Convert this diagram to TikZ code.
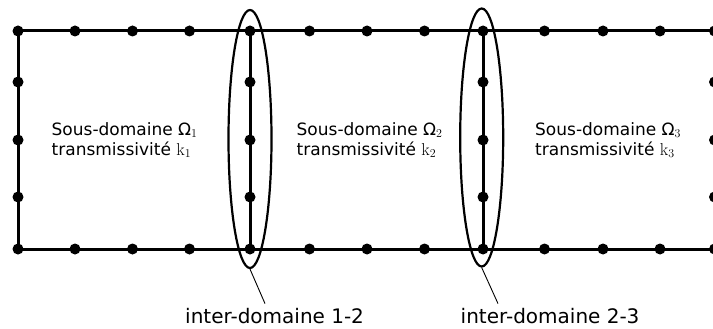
\documentclass[tikz,border=0pt]{standalone}
\usepackage[no-math]{fontspec}
\setmainfont{DejaVu Sans}
\usetikzlibrary{shapes.geometric, positioning, calc}
\tikzset{
  pt/.style={circle, fill, inner sep=0pt, minimum size=11pt},
  bord/.style={line width=3pt},
  zone/.style={ellipse, draw, line width=2.2pt, minimum width=43pt, minimum height=258pt, inner sep=0pt},
  lead/.style={line width=0.9pt},
  dlab/.style={font=\fontsize{17}{20}\selectfont, align=left, anchor=west, inner sep=0pt},
  ilab/.style={font=\fontsize{20}{24}\selectfont, anchor=base west, inner sep=0pt}
}

\begin{document}
\begin{tikzpicture}[x=1pt, y=-1pt]
	\useasboundingbox (0,0) rectangle (713,329);
	\clip (0,0) rectangle (713,329);
	% nodes of the top and bottom edges
	\foreach \i/\x in {0/18, 1/75, 2/132.5, 3/189.5, 4/250, 5/309.5, 6/367, 7/424.5, 8/483, 9/544.5, 10/603, 11/660, 12/714.5} {
		\node[pt] (t\i) at (\x,31) {};
		\node[pt] (b\i) at (\x,249) {};
	}
	% nodes of the vertical lines: l left, m inter 1-2, n inter 2-3, r right
	\foreach \x/\k in {18/l, 250/m, 483/n, 714.5/r} {
		\foreach \j/\y in {1/82, 2/140, 3/197} { \node[pt] (\k\j) at (\x,\y) {}; }
	}
	\draw[bord] (t0.center) -- (t12.center);
	\draw[bord] (b0.center) -- (b12.center);
	\draw[bord] (t0.center) -- (b0.center);
	\draw[bord] (t4.center) -- (b4.center);
	\draw[bord] (t8.center) -- (b8.center);
	% inter-domains
	\node[zone] (e12) at (250,139) {};
	\node[zone] (e23) at (481.7,137.5) {};
	% sub-domains
	\node[dlab] (d1) at (51.5,140) {Sous-domaine Ω$_1$\\transmissivité $\mathrm{k}_1$};
	\node[dlab] (d2) at (296.5,140) {Sous-domaine Ω$_2$\\transmissivité $\mathrm{k}_2$};
	\node[dlab] (d3) at (535,140) {Sous-domaine Ω$_3$\\transmissivité $\mathrm{k}_3$};
	\node[ilab] (i12) at (185,323) {inter-domaine 1-2};
	\node[ilab] (i23) at (460.5,323) {inter-domaine 2-3};
	\draw[lead] (e12.south) -- ([xshift=80pt, yshift=4pt]i12.north west);
	\draw[lead] (e23.south) -- ([xshift=37.5pt, yshift=4pt]i23.north west);
\end{tikzpicture}
\end{document}
